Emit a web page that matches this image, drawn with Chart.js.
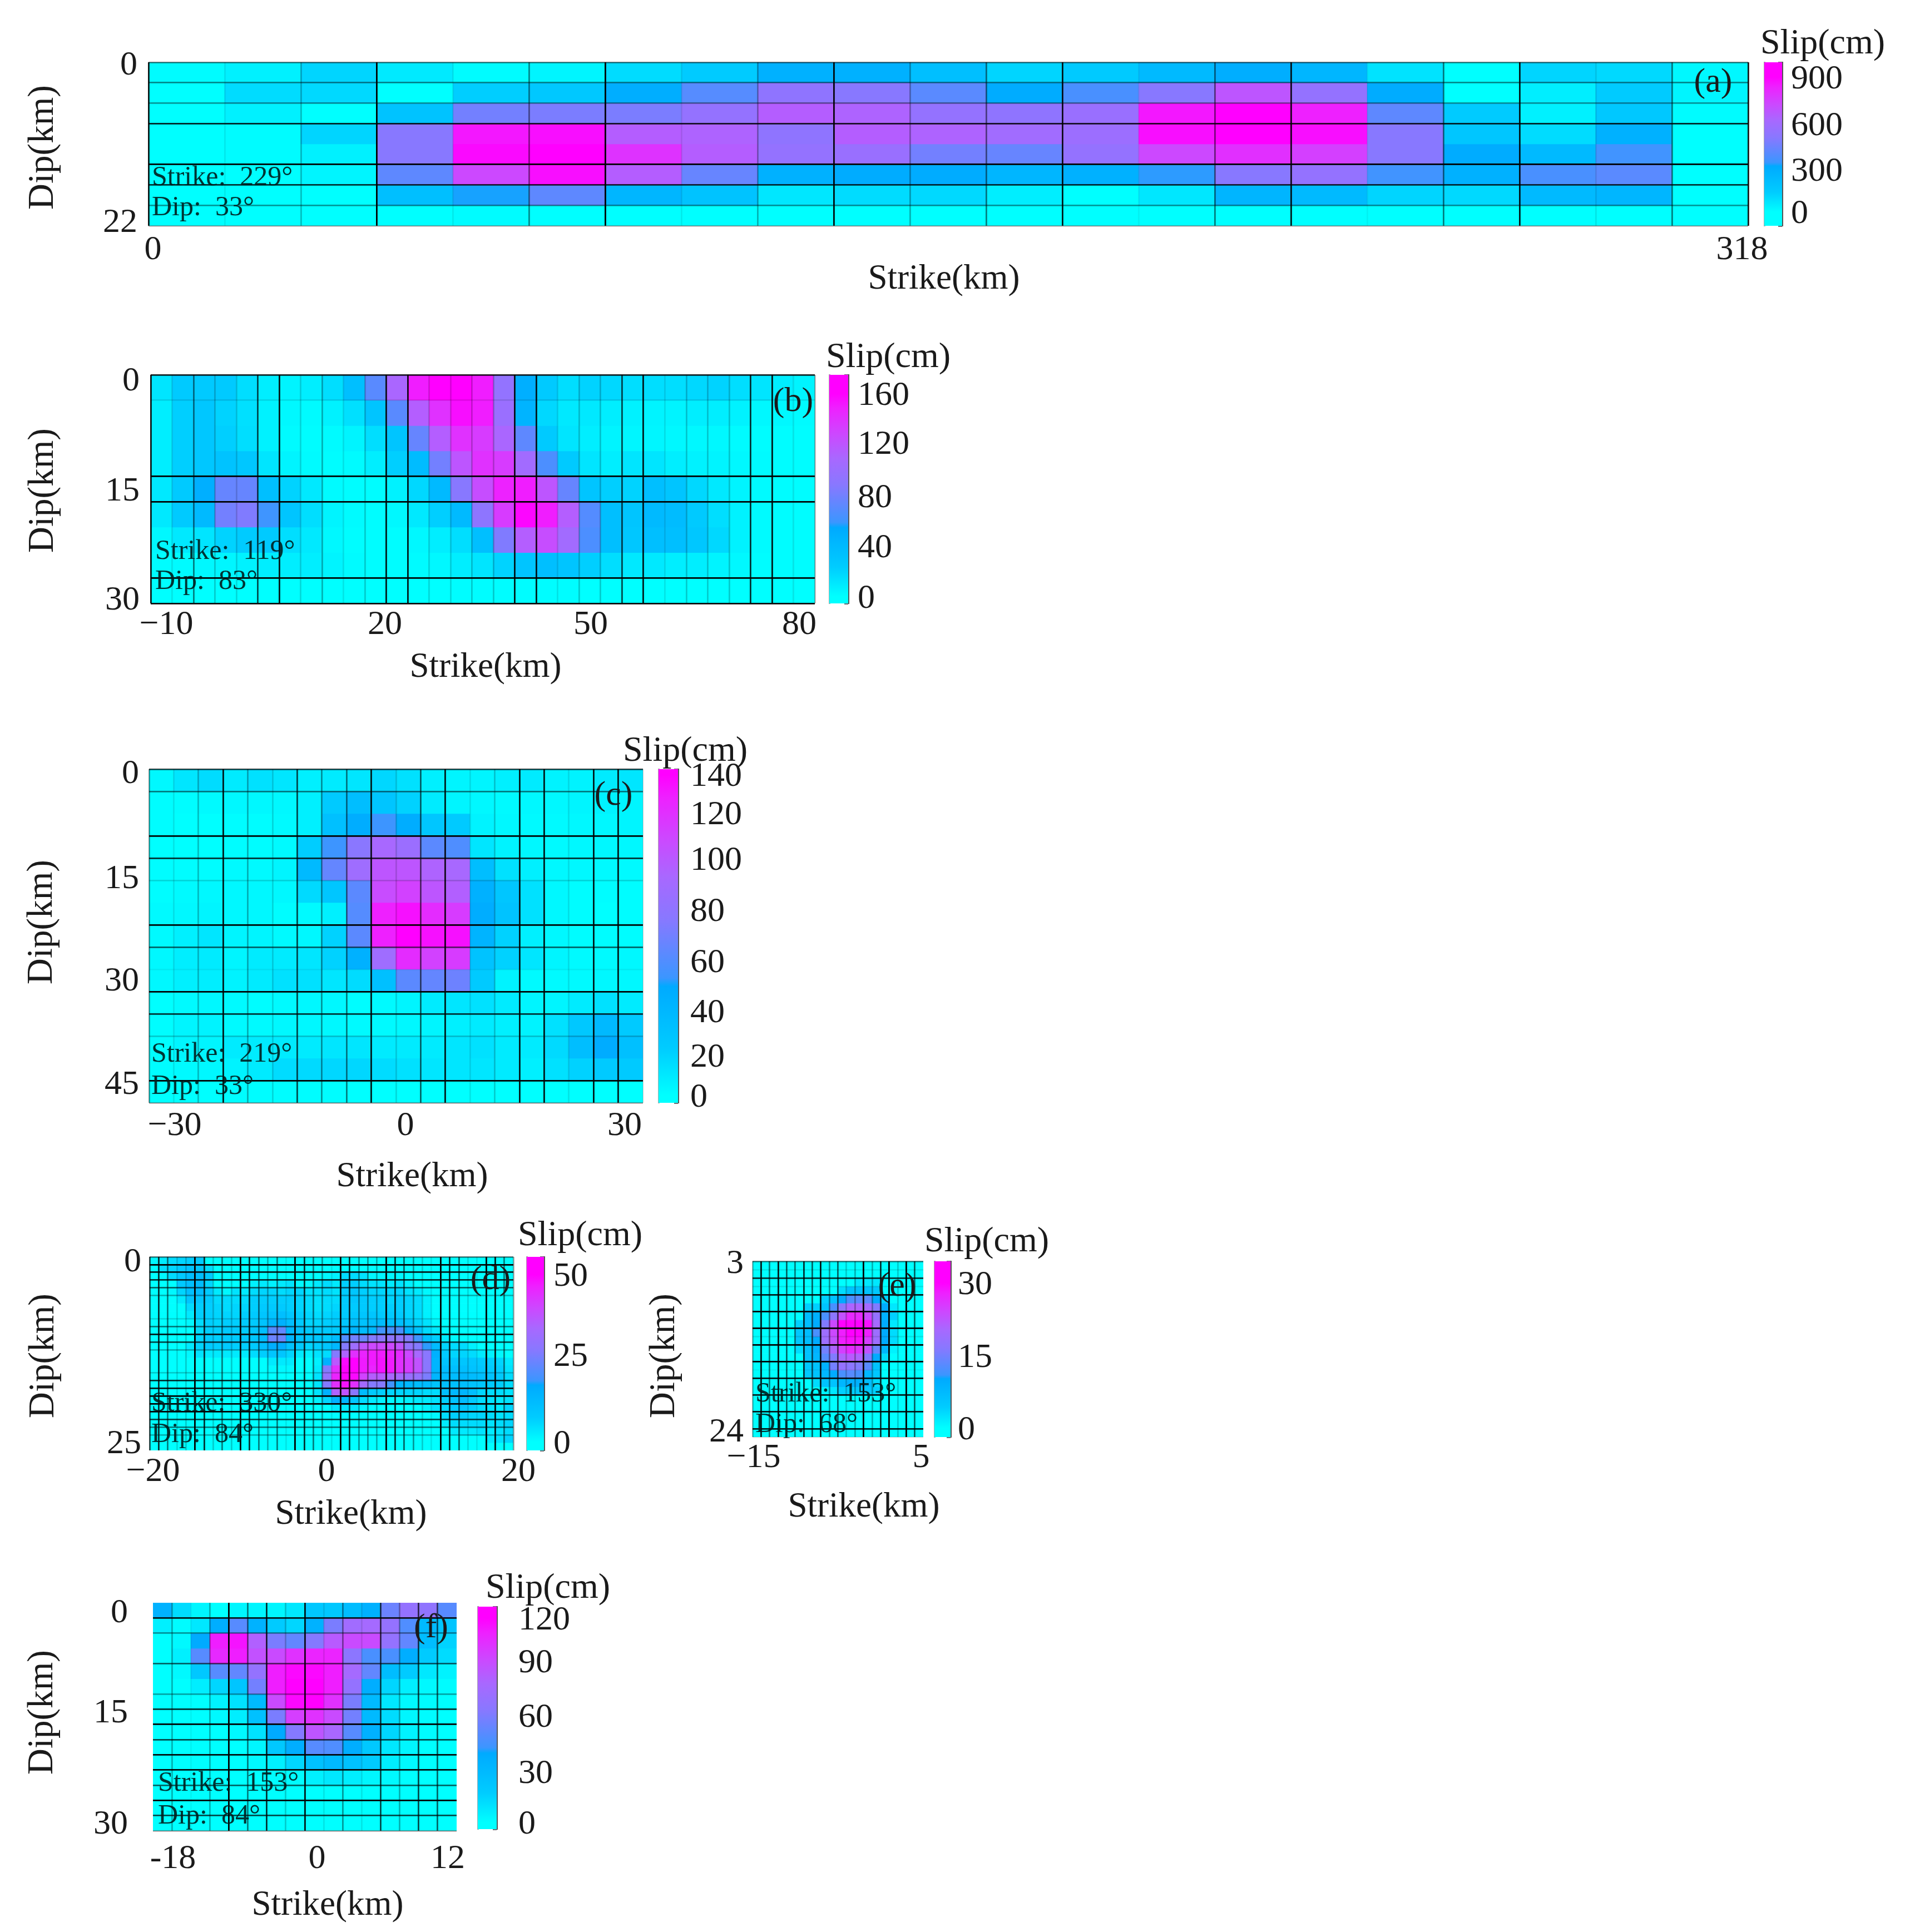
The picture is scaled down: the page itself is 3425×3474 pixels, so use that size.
<!DOCTYPE html>
<html>
<head>
<meta charset="utf-8">
<title>Slip distributions</title>
<script src="https://cdn.jsdelivr.net/npm/chart.js@4/dist/chart.umd.js"></script>
<style>
  html, body { margin: 0; background: #fff; }
  #page { position: relative; width: 3425px; height: 3474px; overflow: hidden; }
  canvas { position: absolute; }
</style>
</head>
<body>
<div id="page"></div>
<script>
// Slip in cm per fault patch, one list per dip row
const slipA = [
  [9,36,108,54,9,27,90,135,270,270,198,108,144,225,288,243,72,0,108,99,18],
  [0,90,99,0,126,153,288,387,522,495,396,297,360,495,675,540,297,0,45,135,27],
  [0,36,0,180,450,468,468,540,648,630,540,522,558,855,900,837,405,135,36,153,9],
  [0,9,108,495,855,873,648,630,522,648,630,585,567,873,900,873,495,162,90,270,0],
  [0,9,36,495,882,900,783,648,540,558,450,423,540,720,792,747,495,297,225,342,0],
  [0,0,27,405,720,873,648,423,270,297,297,243,270,324,495,540,342,270,360,396,0],
  [0,0,0,198,315,405,243,180,63,90,99,45,0,63,252,225,108,99,225,243,0],
  [0,0,0,0,9]
];
const slipB = [
  [12,25,25,25,15,8,5,8,15,35,70,110,150,160,160,150,95,50,25,15,20,18,15,15,15,18,20,15,12,8,5],
  [8,22,28,20,14,6,3,2,6,14,30,70,115,140,155,150,100,45,18,10,10,8,6,5,5,8,8,6,3,3,2],
  [8,22,28,22,15,6,2,1,2,5,15,30,75,115,140,135,110,72,25,12,8,5,4,4,3,3,3,2,1,1,1],
  [8,22,28,32,28,12,5,2,1,2,8,22,38,80,120,140,135,105,65,25,12,8,12,12,8,6,5,3,2,1,1],
  [10,25,50,75,75,35,20,10,2,1,1,6,18,40,88,125,148,150,120,75,30,22,20,35,30,18,10,5,2,1,1],
  [10,25,40,80,85,60,30,15,5,2,1,3,10,22,40,92,135,158,150,115,68,35,30,40,38,25,15,6,2,1,1],
  [3,10,12,20,24,25,15,10,3,1,1,1,3,8,15,35,85,115,125,105,65,35,28,35,35,28,18,6,2,1,1],
  [1,2,3,4,6,8,8,8,5,2,1,1,2,3,8,12,20,30,35,30,22,15,10,10,8,8,5,3,1,1,1],
  [0,0,0,0,0,0,0,0,0,0,0,0,0,0,1,1,1,1,1,1]
];
const slipC = [
  [3,10,14,8,12,10,6,8,10,16,12,6,4,4,6,8,5,5,8,10],
  [1,1,2,3,3,3,6,22,32,26,18,8,4,3,2,3,3,4,5,4],
  [1,0,0,1,1,2,6,30,45,52,45,25,22,5,3,2,2,3,3,4],
  [0,0,0,1,1,2,20,52,78,95,88,62,58,10,5,3,2,3,3,3],
  [1,1,1,2,2,4,35,65,90,105,105,98,95,32,12,6,3,3,2,2],
  [1,2,3,3,3,3,15,25,62,110,115,105,100,42,25,12,3,1,1,1],
  [2,3,4,3,3,1,2,6,60,130,135,125,118,45,28,12,3,1,0,1],
  [2,6,10,4,4,2,3,18,62,130,140,135,135,40,18,6,3,1,1,1],
  [3,7,8,4,8,8,10,18,42,90,125,115,118,28,18,10,4,2,2,3],
  [3,6,7,5,8,12,12,10,14,30,62,65,68,22,5,2,2,2,3,3],
  [0,2,3,2,1,2,3,3,1,2,4,8,10,12,8,4,4,8,12,8],
  [1,4,5,2,2,3,3,3,2,2,3,4,6,8,6,5,12,24,36,22],
  [1,4,4,8,8,8,8,10,10,8,8,8,10,12,8,8,15,32,46,30],
  [1,2,3,5,8,14,15,16,16,14,12,10,10,10,8,6,12,18,22,22],
  [0,0,0,1,1,1,1,1]
];
const slipD = [
  [1,3,5,6,7,8],
  [0,5,6,8,10,9,5],
  [0,1,5,8,11,11,8,0,0,0,0,0,0,0,0,0,0,0,0,1,2,5,5,4,1,1,1,1],
  [0,0,0,8,11,12,6,0,0,0,0,2,3,2,3,4,1,1,3,5,3,7,7,5,4,4,3,4,2],
  [0,0,1,6,11,12,8,3,1,4,3,5,6,6,5,6,6,4,4,5,4,8,9,7,6,6,6,6,4,3,1],
  [0,0,0,3,9,9,8,5,5,5,5,7,7,7,7,7,6,5,4,5,5,8,9,8,7,7,6,7,6,5,2],
  [0,0,0,0,5,7,7,6,5,6,6,7,8,8,8,7,6,5,4,5,6,8,8,8,7,7,7,7,6,5,2],
  [0,0,0,0,3,7,7,6,6,6,7,8,9,10,11,9,7,6,5,6,7,8,9,9,9,8,8,8,6,5,2],
  [0,0,0,0,1,5,7,6,7,7,8,8,10,14,15,11,8,6,6,7,8,9,11,10,11,12,11,11,9,6,4,1],
  [0,0,0,0,0,5,7,7,8,8,8,9,11,22,23,13,10,8,8,8,8,12,14,12,13,19,20,20,14,10,5,3,1],
  [0,0,0,0,0,6,8,7,8,8,9,9,12,24,24,14,10,9,9,8,12,21,25,24,27,28,29,29,27,19,11,7,3,1],
  [0,0,0,0,3,6,8,7,8,7,7,8,11,16,16,10,8,6,7,9,13,27,32,38,40,40,40,38,30,27,18,12,6,5,5,2],
  [0,0,0,0,1,4,3,3,3,3,3,5,7,9,9,6,3,2,4,5,27,35,44,46,47,47,46,45,40,34,28,15,8,6,6,5,3,2,1],
  [0,0,0,0,0,0,0,0,0,0,0,0,0,3,3,3,0,0,2,15,37,49,50,47,47,48,47,44,42,38,28,14,10,9,9,9,8,7,6,3],
  [0,0,0,0,0,0,0,0,0,0,0,0,0,1,1,1,0,0,3,27,44,50,50,47,46,48,47,44,42,38,28,14,12,11,11,10,9,8,7,4],
  [0,0,0,0,0,0,0,0,0,0,0,0,0,0,0,0,0,0,4,30,46,50,49,41,36,36,34,33,31,30,26,14,12,12,13,12,11,10,8,5],
  [0,0,0,0,0,0,0,0,0,0,0,0,0,0,0,0,0,0,4,27,44,48,44,33,27,27,19,14,13,12,12,10,11,11,11,10,9,8,7,5],
  [0,0,0,0,0,0,0,0,0,0,0,0,0,0,0,0,0,0,4,15,35,38,28,12,8,7,6,6,6,6,5,5,11,13,14,11,6,5,5,4],
  [0,0,0,0,0,0,0,0,0,0,0,0,0,0,0,0,0,0,2,6,15,14,9,5,3,2,1,1,2,3,3,4,7,10,12,8,5,4,3,4],
  [0,0,0,0,0,0,0,0,0,0,0,0,0,0,0,0,0,0,0,0,3,3,3,1,0,0,0,0,0,0,2,4,6,8,9,7,5,4,3,6],
  [0,0,0,0,0,0,0,0,0,0,0,0,0,0,0,0,0,0,0,0,0,0,0,0,0,0,0,0,0,0,0,1,5,7,7,6,6,5,4,5],
  [0,0,0,0,0,0,0,0,0,0,0,0,0,0,0,0,0,0,0,0,0,0,0,0,0,0,0,0,0,0,0,0,3,5,5,5,5,4,5,6],
  [0,0,0,0,0,0,0,0,0,0,0,0,0,0,0,0,0,0,0,0,0,0,0,0,0,0,0,0,0,0,0,0,0,3,3,3,4,3,4,5],
  [0,0,0,0,0,0,0,0,0,0,0,0,0,0,0,0,0,0,0,0,0,0,0,0,0,0,0,0,0,0,0,0,0,0,0,0,0,3,4,6],
  []
];
const slipE = [
  [],
  [],
  [0,0,0,0,0,0,0,0,0,0,0,0,2,2,2],
  [0,0,0,0,0,0,0,0,0,0,3,6,6,6,5],
  [0,0,0,0,0,0,0,0,4,6,10,12,13,13,10,4],
  [0,0,0,0,0,0,4,4,6,12,17,21,21,20,16,10,2],
  [0,0,0,0,0,0,7,9,12,17,23,27,27,24,18,9,4],
  [0,0,0,0,0,4,7,10,16,24,30,30,30,29,20,10,2],
  [0,0,0,0,0,5,7,12,19,24,28,30,30,28,19,10,3],
  [0,0,0,0,0,5,7,10,19,23,28,29,29,25,19,10,3],
  [0,0,0,0,0,3,6,9,15,21,25,27,26,23,14,8,1],
  [0,0,0,0,0,0,6,8,13,16,21,22,21,16,10,3],
  [0,0,0,0,0,0,5,6,9,15,18,17,16,13,6],
  [0,0,0,0,0,0,5,6,8,10,12,13,12,8,5],
  [0,0,0,0,0,0,0,3,6,6,8,9,9,7,3],
  [0,0,0,0,0,0,0,0,1,2,4,4,5,5,4],
  [],
  [],
  [],
  [],
  []
];
const slipF = [
  [35,12,3,0,3,3,3,8,20,20,28,36,58,72,70,52],
  [5,1,8,38,52,35,18,14,35,62,78,80,72,50,30,22],
  [0,2,40,112,115,85,62,55,65,88,95,95,72,55,28,15],
  [0,5,52,108,112,92,95,105,110,110,68,48,48,38,18,12],
  [0,2,20,52,55,72,112,118,118,112,80,55,28,18,8,4],
  [0,0,6,14,22,60,112,120,120,112,72,38,14,5,2,1],
  [0,0,0,4,10,30,95,118,120,105,62,30,8,2,1,0],
  [0,0,0,2,6,25,62,100,105,95,60,30,12,3,1,0],
  [0,0,0,0,2,10,40,65,90,82,52,36,14,4,1,0],
  [0,0,0,0,0,3,20,38,52,50,38,20,8,3,0,0],
  [0,0,0,0,0,2,5,14,25,30,25,18,6,2,0,0],
  [0,0,0,0,0,0,1,1,5,8,6,3,2,0,0,0],
  [],
  [],
  []
];

// Printed tick labels
const strikeLabelsA = ['0', '318'];
const dipLabelsA = ['0', '22'];
const barLabelsA = ['900', '600', '300', '0'];
const strikeLabelsB = ['\u221210', '20', '50', '80'];
const dipLabelsB = ['0', '15', '30'];
const barLabelsB = ['160', '120', '80', '40', '0'];
const strikeLabelsC = ['\u221230', '0', '30'];
const dipLabelsC = ['0', '15', '30', '45'];
const barLabelsC = ['140', '120', '100', '80', '60', '40', '20', '0'];
const strikeLabelsD = ['\u221220', '0', '20'];
const dipLabelsD = ['0', '25'];
const barLabelsD = ['50', '25', '0'];
const strikeLabelsE = ['\u221215', '5'];
const dipLabelsE = ['3', '24'];
const barLabelsE = ['30', '15', '0'];
const strikeLabelsF = ['-18', '0', '12'];
const dipLabelsF = ['0', '15', '30'];
const barLabelsF = ['120', '90', '60', '30', '0'];

// Darkness of the fault grid lines, which vary with how the original was resampled
const linesXA = [.9,.08,.25,1,.08,.45,1,.08,.3,.95,.3,.5,.9,.05,.5,.9,.05,.5,.9,.1,.5,.9];
const linesYA = [.5,.45,.4,.85,0,1,.8,.4,.3];
const linesXB = [.9,.1,.5,.2,.15,.7,.9,.15,.3,.1,.2,.9,.9,.15,.15,.2,.2,.9,.9,.1,.2,.2,.7,.9,.1,.2,.2,.2,.8,.9,.1,.3];
const linesYB = [.85,.1,0,0,1,1,0,0,1,.95];
const linesXC = [.4,.1,.25,.9,.3,.15,.7,.4,.5,.9,.15,.6,.9,.1,.2,.9,.9,.1,.9,.9,.1];
const linesYC = [.7,.5,0,1,.8,.15,0,1,.6,.05,1,.8,.2,0,1,.35];
const linesXD = [.7,.8,.5,.15,.2,1,.8,.2,.5,.2,1,.8,.5,.3,.5,.1,1,.8,.5,.4,.1,1,.8,.4,.4,.3,1,.8,.6,.4,.2,.1,1,.8,.6,.15,.1,1,.9,.5,.35];
const linesYD = [.5,1,.9,.8,.6,.3,0,0,.15,.5,.9,.7,.3,0,0,.2,.8,.9,1,1,1,.7,.5,.3,0,0];
const linesXE = [.3,.9,.5,.9,.6,.5,.8,.6,.9,.4,.6,.2,.3,1,.3,.8,1,.2,1,.6,0];
const linesYE = [.5,.1,.8,.1,.9,0,1,0,1,.1,1,0,1,.05,.9,0,.9,0,.9,0,.9,.1];
const linesXF = [0,.3,.05,.3,1,.5,.8,.2,.9,.1,.4,.1,.7,.3,.7,.6,0];
const linesYF = [0,.9,.4,0,.6,0,.35,.8,1,.7,.95,.95,.6,1,.7,.35];

// Colour ramp: share of the panel's peak slip -> colour
const rampShares = [0, .146, .34, .366, .55, .68, .8, .93, 1];
const rampColors = [[0,255,255],[0,204,255],[0,170,255],[59,150,255],[136,120,255],[168,104,255],[204,72,255],[238,32,255],[255,0,255]];

const TEXT_FONT = 'Liberation Serif';
const TEXT_COLOR = '#1a1a1a';
const NOTE_COLOR = 'rgba(0, 30, 30, 0.9)';

// Page layout of the six panels (pixels). The labels in the original were placed by hand,
// so each label keeps its own page position (xLabelPx, yLabelPx, barLabelPx)
const panels = [
  { tag: '(a)', slip: slipA, peak: 900, left: 0, plot: [267, 112, 3143, 406], bar: [3172, 112, 3204, 406],
    xRange: [-0.9, 319.2], yRange: [-0.15, 22.7], barRange: [-93, 1000], barPad: 16, barMarks: 10,
    xLabels: strikeLabelsA, yLabels: dipLabelsA, barLabels: barLabelsA,
    xLabelPx: [275, 3132], yLabelPx: [114, 397], barLabelPx: [139, 223, 305, 381],
    linesX: linesXA, linesY: linesYA, xPad: 7, yPad: 20,
    slipAt: [3277, 75], xTitleAt: [1697, 498], yTitleAt: [78, 265], tagAt: [3080, 145],
    strikeNote: 'Strike:  229\u00b0', dipNote: 'Dip:  33\u00b0', noteX: 273, strikeY: 316, dipY: 370 },
  { tag: '(b)', slip: slipB, peak: 160, left: 0, plot: [271, 674, 1465, 1085], bar: [1491, 674, 1525, 1085],
    xRange: [-12.2, 82.2], yRange: [-0.6, 30.7], barRange: [-5.3, 174.9], barPad: 17, barMarks: 10,
    xLabels: strikeLabelsB, yLabels: dipLabelsB, barLabels: barLabelsB,
    xLabelPx: [299, 692, 1062, 1437], yLabelPx: [682, 880, 1076], barLabelPx: [708, 796, 892, 982, 1073],
    linesX: linesXB, linesY: linesYB, xPad: 2, yPad: 20,
    slipAt: [1597, 639], xTitleAt: [873, 1196], yTitleAt: [78, 882], tagAt: [1426, 719],
    strikeNote: 'Strike:  119\u00b0', dipNote: 'Dip:  83\u00b0', noteX: 279, strikeY: 988, dipY: 1042 },
  { tag: '(c)', slip: slipC, peak: 140, left: 0, plot: [268, 1383, 1156, 1983], bar: [1184, 1383, 1219, 1983],
    xRange: [-33.4, 32.4], yRange: [-0.4, 47.9], barRange: [-3.2, 142.4], barPad: 22, barMarks: 7,
    xLabels: strikeLabelsC, yLabels: dipLabelsC, barLabels: barLabelsC,
    xLabelPx: [314, 729, 1123], yLabelPx: [1388, 1577, 1761, 1947], barLabelPx: [1393, 1462, 1544, 1636, 1728, 1818, 1898, 1970],
    linesX: linesXC, linesY: linesYC, xPad: 5, yPad: 18,
    slipAt: [1232, 1347], xTitleAt: [741, 2112], yTitleAt: [76, 1658], tagAt: [1103, 1427],
    strikeNote: 'Strike:  219\u00b0', dipNote: 'Dip:  33\u00b0', noteX: 272, strikeY: 1892, dipY: 1950 },
  { tag: '(d)', slip: slipD, peak: 50, left: 0, plot: [269, 2260, 923, 2608], bar: [947, 2260, 978, 2608],
    xRange: [-20.4, 19.45], yRange: [-0.46, 26.1], barRange: [-2.5, 55.3], barPad: 17, barMarks: 11,
    xLabels: strikeLabelsD, yLabels: dipLabelsD, barLabels: barLabelsD,
    xLabelPx: [275, 587, 932], yLabelPx: [2266, 2593], barLabelPx: [2292, 2436, 2593],
    linesX: linesXD, linesY: linesYD, xPad: 2, yPad: 15,
    slipAt: [1043, 2218], xTitleAt: [631, 2719], yTitleAt: [79, 2438], tagAt: [882, 2298],
    strikeNote: 'Strike:  330\u00b0', dipNote: 'Dip:  84\u00b0', noteX: 272, strikeY: 2520, dipY: 2576 },
  { tag: '(e)', slip: slipE, peak: 30, left: 1160, plot: [1353, 2268, 1660, 2584], bar: [1680, 2268, 1709, 2584],
    xRange: [-15.13, 5.27], yRange: [2.93, 24.83], barRange: [-1.84, 34.5], barPad: 13, barMarks: 8,
    xLabels: strikeLabelsE, yLabels: dipLabelsE, barLabels: barLabelsE,
    xLabelPx: [1355, 1656], yLabelPx: [2269, 2572], barLabelPx: [2307, 2438, 2568],
    linesX: linesXE, linesY: linesYE, xPad: 1, yPad: 16,
    slipAt: [1774, 2229], xTitleAt: [1553, 2706], yTitleAt: [1195, 2438], tagAt: [1613, 2310],
    strikeNote: 'Strike:  153\u00b0', dipNote: 'Dip:  68\u00b0', noteX: 1358, strikeY: 2503, dipY: 2558 },
  { tag: '(f)', slip: slipF, peak: 120, left: 0, plot: [275, 2882, 821, 3292], bar: [859, 2889, 893, 3289],
    xRange: [-20.2, 12.97], yRange: [-1.18, 31.18], barRange: [-3.9, 126.9], barPad: 39, barMarks: 10,
    xLabels: strikeLabelsF, yLabels: dipLabelsF, barLabels: barLabelsF,
    xLabelPx: [311, 570, 805], yLabelPx: [2897, 3077, 3277], barLabelPx: [2910, 2987, 3085, 3186, 3277],
    linesX: linesXF, linesY: linesYF, xPad: 14, yPad: 45,
    slipAt: [985, 2852], xTitleAt: [589, 3422], yTitleAt: [77, 3079], tagAt: [775, 2924],
    strikeNote: 'Strike:  153\u00b0', dipNote: 'Dip:  84\u00b0', noteX: 284, strikeY: 3203, dipY: 3262 }
];

Chart.defaults.font.family = TEXT_FONT;
Chart.defaults.color = TEXT_COLOR;
Chart.defaults.animation = false;

/** Looks up the ramp colour for a slip value */
function slipColor(value, peak) {
  const share = Math.min(Math.max(value / peak, 0), 1);
  let i = 1;
  while (i < rampShares.length - 1 && share > rampShares[i]) i++;
  const f = (share - rampShares[i - 1]) / (rampShares[i] - rampShares[i - 1]);
  const c = rampColors[i].map((top, k) => Math.round(rampColors[i - 1][k] + (top - rampColors[i - 1][k]) * f));
  return `rgb(${c[0]}, ${c[1]}, ${c[2]})`;
}

/** Turns a page pixel into the axis value sitting there */
function pixelToValue(px, startPx, endPx, range) {
  return range[0] + (px - startPx) / (endPx - startPx) * (range[1] - range[0]);
}

// Draws the free-standing texts of a panel, given in page coordinates
const panelTextPlugin = {
  id: 'panelText',
  afterDraw(chart, args, opts) {
    const ctx = chart.ctx;
    (opts.items || []).forEach(item => {
      ctx.save();
      ctx.font = `${item.size}px "${TEXT_FONT}"`;
      ctx.fillStyle = item.color || TEXT_COLOR;
      ctx.textAlign = item.align || 'center';
      ctx.textBaseline = 'middle';
      ctx.translate(item.x - opts.originX, item.y - opts.originY + (item.vertical ? 0 : 4));
      if (item.vertical) ctx.rotate(-Math.PI / 2);
      ctx.fillText(item.text, 0, 0);
      ctx.restore();
    });
  }
};

function addCanvas(left, top, width, height) {
  const canvas = document.createElement('canvas');
  canvas.width = width;
  canvas.height = height;
  canvas.style.left = left + 'px';
  canvas.style.top = top + 'px';
  canvas.style.width = width + 'px';
  canvas.style.height = height + 'px';
  document.getElementById('page').appendChild(canvas);
  return canvas;
}

/** Heat map of one fault plane: one floating-bar dataset per dip row */
function createSlipMap(panel) {
  const [x0, y0, x1, y1] = panel.plot;
  const marginTop = 100, marginRight = 70, marginBottom = 175;
  const canvas = addCanvas(panel.left, y0 - marginTop, x1 + marginRight - panel.left, y1 - y0 + marginTop + marginBottom);

  const rows = panel.slip.length;
  const cols = panel.linesX.length - 1;
  const stepX = (panel.xRange[1] - panel.xRange[0]) / cols;
  const stepY = (panel.yRange[1] - panel.yRange[0]) / rows;
  const edgesX = panel.linesX.map((_, i) => panel.xRange[0] + i * stepX);
  const edgesY = panel.linesY.map((_, i) => panel.yRange[0] + i * stepY);

  const datasets = panel.slip.map((row, r) => {
    const top = panel.yRange[0] + r * stepY;
    const points = [], colors = [];
    for (let c = 0; c < cols; c++) {
      points.push({ x: panel.xRange[0] + (c + 0.5) * stepX, y: [top, top + stepY] });
      colors.push(slipColor(row[c] || 0, panel.peak));
    }
    return { data: points, backgroundColor: colors, borderWidth: 0, barPercentage: 1, categoryPercentage: 1, grouped: false };
  });

  const tickFont = { size: 62 };
  const lineAxis = (range, edges, strengths) => ({
    type: 'linear',
    offset: false,
    min: range[0],
    max: range[1],
    afterBuildTicks: scale => { scale.ticks = edges.map(value => ({ value })); },
    afterFit: scale => { if (scale.isHorizontal()) scale.height = 0; else scale.width = 0; },
    ticks: { display: false },
    border: { display: false },
    grid: {
      z: 1,
      offset: false,
      drawTicks: false,
      lineWidth: 2.8,
      color: ctx => `rgba(0, 0, 0, ${strengths[ctx.index] || 0})`
    }
  });

  return new Chart(canvas, {
    type: 'bar',
    data: { datasets },
    plugins: [panelTextPlugin],
    options: {
      responsive: false,
      devicePixelRatio: 1,
      layout: { padding: { top: marginTop, right: marginRight, left: 0, bottom: 0 } },
      plugins: {
        legend: { display: false },
        title: { display: false },
        tooltip: { enabled: false },
        panelText: {
          originX: panel.left,
          originY: y0 - marginTop,
          items: [
            { text: 'Strike(km)', x: panel.xTitleAt[0], y: panel.xTitleAt[1], size: 63 },
            { text: 'Dip(km)', x: panel.yTitleAt[0], y: panel.yTitleAt[1], size: 65, vertical: true },
            { text: panel.tag, x: panel.tagAt[0], y: panel.tagAt[1], size: 62 },
            { text: panel.strikeNote, x: panel.noteX, y: panel.strikeY, size: 50, align: 'left', color: NOTE_COLOR },
            { text: panel.dipNote, x: panel.noteX, y: panel.dipY, size: 50, align: 'left', color: NOTE_COLOR }
          ]
        }
      },
      scales: {
        x: {
          type: 'linear',
          offset: false,
          min: panel.xRange[0],
          max: panel.xRange[1],
          afterBuildTicks: scale => {
            scale.ticks = panel.xLabelPx.map(px => ({ value: pixelToValue(px, x0, x1, panel.xRange) }));
          },
          afterFit: scale => { scale.height = marginBottom; },
          grid: { display: false, offset: false, drawTicks: false },
          border: { display: false },
          ticks: {
            autoSkip: false,
            maxRotation: 0,
            padding: panel.xPad,
            color: TEXT_COLOR,
            font: tickFont,
            callback: (value, index) => panel.xLabels[index]
          }
        },
        y: {
          type: 'linear',
          reverse: true,
          min: panel.yRange[0],
          max: panel.yRange[1],
          afterBuildTicks: scale => {
            scale.ticks = panel.yLabelPx.map(px => ({ value: pixelToValue(px, y0, y1, panel.yRange) }));
          },
          afterFit: scale => { scale.width = x0 - panel.left; },
          grid: { display: false, drawTicks: false },
          border: { display: false },
          ticks: {
            autoSkip: false,
            padding: panel.yPad,
            labelOffset: 4,
            color: TEXT_COLOR,
            font: tickFont,
            callback: (value, index) => panel.yLabels[index]
          }
        },
        xLines: Object.assign(lineAxis(panel.xRange, edgesX, panel.linesX), { axis: 'x', position: 'top' }),
        yLines: Object.assign(lineAxis(panel.yRange, edgesY, panel.linesY), { axis: 'y', position: 'right', reverse: true })
      }
    }
  });
}

/** Colour bar of one panel: a single floating bar filled with the ramp */
function createColorBar(panel) {
  const [x0, y0, x1, y1] = panel.bar;
  const marginLeft = 100, marginTop = 100, marginBottom = 100, marginRight = 230;
  const canvas = addCanvas(x0 - marginLeft, y0 - marginTop, x1 - x0 + marginLeft + marginRight, y1 - y0 + marginTop + marginBottom);

  const rampFill = ctx => {
    const scale = ctx.chart.scales.y;
    if (!ctx.chart.chartArea || !scale) return slipColor(panel.peak / 2, panel.peak);
    const fill = ctx.chart.ctx.createLinearGradient(0, scale.getPixelForValue(0), 0, scale.getPixelForValue(panel.peak));
    rampShares.forEach((share, i) => {
      const c = rampColors[i];
      fill.addColorStop(share, `rgb(${c[0]}, ${c[1]}, ${c[2]})`);
    });
    return fill;
  };

  return new Chart(canvas, {
    type: 'bar',
    data: {
      labels: ['Slip'],
      datasets: [{ data: [panel.barRange], backgroundColor: rampFill, borderWidth: 0, barPercentage: 1, categoryPercentage: 1 }]
    },
    plugins: [panelTextPlugin],
    options: {
      responsive: false,
      devicePixelRatio: 1,
      layout: { padding: { top: marginTop, bottom: marginBottom, left: 0, right: 0 } },
      plugins: {
        legend: { display: false },
        title: { display: false },
        tooltip: { enabled: false },
        panelText: {
          originX: x0 - marginLeft,
          originY: y0 - marginTop,
          items: [{ text: 'Slip(cm)', x: panel.slipAt[0], y: panel.slipAt[1], size: 64 }]
        }
      },
      scales: {
        x: { display: false },
        y: {
          type: 'linear',
          position: 'right',
          min: panel.barRange[0],
          max: panel.barRange[1],
          afterBuildTicks: scale => {
            const flipped = [panel.barRange[1], panel.barRange[0]];
            scale.ticks = panel.barLabelPx.map(px => ({ value: pixelToValue(px, y0, y1, flipped) }));
          },
          afterFit: scale => { scale.width = marginRight; },
          grid: { display: false, drawTicks: false },
          border: { display: true, color: '#555', width: 3 },
          ticks: {
            autoSkip: false,
            padding: panel.barPad,
            labelOffset: 4,
            color: TEXT_COLOR,
            font: { size: 62 },
            callback: (value, index) => panel.barLabels[index]
          }
        },
        yMarks: {
          type: 'linear',
          axis: 'y',
          position: 'right',
          weight: -1,
          min: panel.barRange[0],
          max: panel.barRange[1],
          afterFit: scale => { scale.width = 0; },
          border: { display: false },
          ticks: { display: false, count: panel.barMarks },
          grid: { drawOnChartArea: false, drawTicks: true, tickLength: -7, lineWidth: 3, color: 'rgba(50, 50, 60, 0.7)' }
        },
        yEdge: {
          type: 'linear',
          axis: 'y',
          position: 'left',
          min: panel.barRange[0],
          max: panel.barRange[1],
          afterFit: scale => { scale.width = marginLeft; },
          ticks: { display: false },
          grid: { display: false },
          border: { display: true, color: '#aaa', width: 3 }
        }
      }
    }
  });
}

panels.forEach(panel => {
  createSlipMap(panel);
  createColorBar(panel);
});
</script>
</body>
</html>
